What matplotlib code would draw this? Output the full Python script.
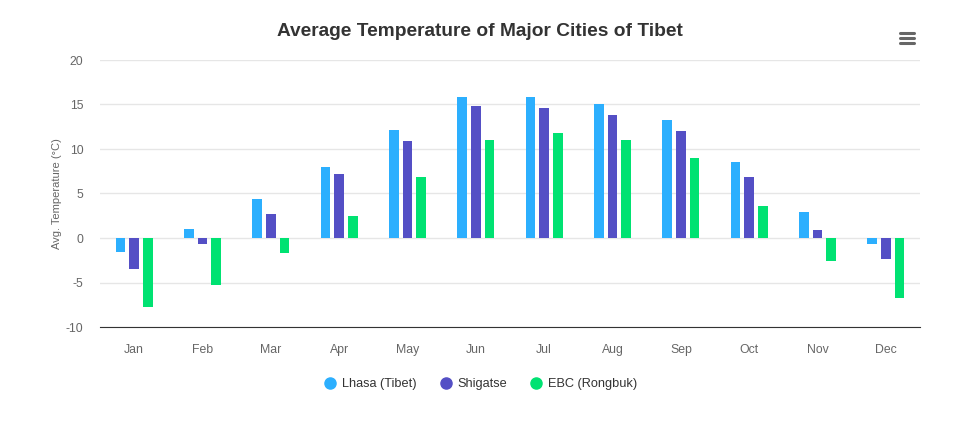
import numpy as np
import matplotlib.pyplot as plt
from matplotlib.lines import Line2D

plt.rcParams['font.family'] = ['Liberation Sans', 'DejaVu Sans']
plt.rcParams['axes.unicode_minus'] = False

# monthly averages (°C)
months = ['Jan', 'Feb', 'Mar', 'Apr', 'May', 'Jun', 'Jul', 'Aug', 'Sep', 'Oct', 'Nov', 'Dec']
lhasa = [-1.6, 1.0, 4.4, 8.0, 12.1, 15.8, 15.8, 15.0, 13.3, 8.5, 2.9, -0.7]
shigatse = [-3.5, -0.7, 2.7, 7.2, 10.9, 14.8, 14.6, 13.8, 12.0, 6.9, 0.9, -2.4]
ebc = [-7.8, -5.3, -1.7, 2.5, 6.8, 11.0, 11.8, 11.0, 9.0, 3.6, -2.6, -6.7]

series = [('Lhasa (Tibet)', lhasa, '#2caffe'),
          ('Shigatse', shigatse, '#544fc5'),
          ('EBC (Rongbuk)', ebc, '#00e272')]

fig = plt.figure(figsize=(9.68, 4.4), dpi=100)
ax = fig.add_axes([100/968, 1-327/440, 820/968, 267/440])

x = np.arange(len(months))
w = 0.146
for i, (name, vals, col) in enumerate(series):
    ax.bar(x + (i-1)*0.2, vals, width=w, color=col, label=name, zorder=3)

ax.set_xlim(-0.5, 11.5)
ax.set_ylim(-10, 20)
ax.set_yticks(range(-10, 21, 5))
ax.set_xticks(x)
ax.set_xticklabels(months)
ax.grid(axis='y', color='#e6e6e6', lw=1, zorder=0)
ax.tick_params(length=0, labelsize=8.8, labelcolor='#666666')
ax.tick_params(axis='x', pad=12)
ax.tick_params(axis='y', pad=12)
for s in ['top', 'right', 'left']:
    ax.spines[s].set_visible(False)
ax.spines['bottom'].set_color('#333333')
ax.spines['bottom'].set_linewidth(0.8)

ax.set_ylabel('Avg. Temperature (°C)', fontsize=8, color='#666666', labelpad=3)

fig.text(480/968, 1-32/440, 'Average Temperature of Major Cities of Tibet',
         ha='center', va='center', fontsize=13.8, fontweight='bold', color='#333333')

leg = fig.legend(loc='center', bbox_to_anchor=(481/968, 1-384/440), ncol=3,
                 frameon=False, fontsize=9.2, handlelength=0.8, handletextpad=0.5,
                 columnspacing=1.9,
                 handles=[Line2D([], [], marker='o', ls='', color=c, markersize=8)
                          for _, _, c in series],
                 labels=[n for n, _, _ in series])
for t in leg.get_texts():
    t.set_color('#333333')

# menu icon
for yy in [33, 38, 43]:
    fig.add_artist(Line2D([900/968, 914/968], [1-yy/440, 1-yy/440],
                          color='#666666', lw=2.2, solid_capstyle='round'))

fig.savefig('out.png', dpi=100)
